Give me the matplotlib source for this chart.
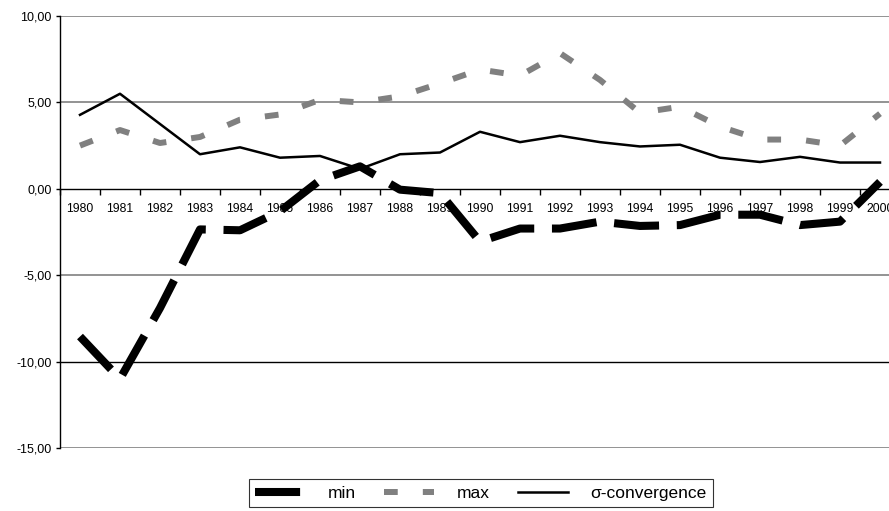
import matplotlib
matplotlib.use('Agg')
import matplotlib.pyplot as plt
import numpy as np

plt.rcParams['font.family'] = ['Liberation Sans', 'DejaVu Sans']

years = [str(y) for y in range(1980, 2001)]

min_vals = [-8.55, -11.0, -6.9, -2.35, -2.4, -1.3, 0.5, 1.3, -0.05, -0.25,
            -3.05, -2.3, -2.3, -1.9, -2.15, -2.1, -1.5, -1.5, -2.1, -1.9, 0.4]
max_vals = [2.5, 3.4, 2.65, 3.0, 4.0, 4.3, 5.15, 5.0, 5.35, 6.1,
            6.9, 6.55, 7.85, 6.3, 4.4, 4.75, 3.6, 2.85, 2.85, 2.5, 4.35]
sigma_vals = [4.28, 5.5, 3.75, 2.0, 2.4, 1.8, 1.9, 1.15, 2.0, 2.1,
              3.3, 2.7, 3.07, 2.7, 2.45, 2.55, 1.8, 1.55, 1.85, 1.52, 1.52]

yticks = [-15, -10, -5, 0, 5, 10]
ytick_labels = ['-15,00', '-10,00', '-5,00', '0,00', '5,00', '10,00']

fig = plt.figure(figsize=(8.89, 5.11), dpi=100)
ax = fig.add_axes([60 / 889, 63 / 511, 840 / 889, 432 / 511])

x = np.arange(len(years))

# grid lines
for v in [10, 5, -5, -15]:
    ax.axhline(v, color='#808080', linewidth=1.2, zorder=1)
ax.axhline(-10, color='black', linewidth=1.0, zorder=1)

l_min, = ax.plot(x, min_vals, color='black', linewidth=5.8,
                 linestyle=(0, (5.6, 2.2)), dash_capstyle='butt',
                 solid_capstyle='butt', label='min', zorder=3)
l_max, = ax.plot(x, max_vals, color='#808080', linewidth=4.3,
                 linestyle=(0, (2.3, 4.2)), dash_capstyle='butt',
                 label='max', zorder=2)
l_sig, = ax.plot(x, sigma_vals, color='black', linewidth=1.8,
                 label='σ-convergence', zorder=4)

ax.set_xlim(-0.5, len(years) - 0.5)
ax.set_ylim(-15, 10)

ax.spines['top'].set_visible(False)
ax.spines['right'].set_visible(False)
ax.spines['bottom'].set_position(('data', 0))
ax.spines['bottom'].set_linewidth(1.0)
ax.spines['left'].set_linewidth(1.0)

ax.set_xticks(x)
ax.set_xticklabels(years, fontsize=8.8)
ax.set_xticks(np.arange(-0.5, len(years), 1.0), minor=True)
ax.tick_params(axis='x', which='major', length=0, pad=10)
ax.tick_params(axis='x', which='minor', length=4, direction='out', width=1.0)

ax.set_yticks(yticks)
ax.set_yticklabels(ytick_labels, fontsize=9)
ax.tick_params(axis='y', length=3, width=1.0, pad=3)

leg = fig.legend(handles=[l_min, l_max, l_sig], loc='center',
                 bbox_to_anchor=(481 / 889, 1 - 493 / 511), ncol=3,
                 fontsize=12.5, frameon=True, fancybox=False,
                 handlelength=2.9, columnspacing=1.6, handletextpad=1.3,
                 borderpad=0.35)
leg.get_frame().set_edgecolor('black')
leg.get_frame().set_linewidth(0.8)

fig.savefig('out.png', dpi=100)
